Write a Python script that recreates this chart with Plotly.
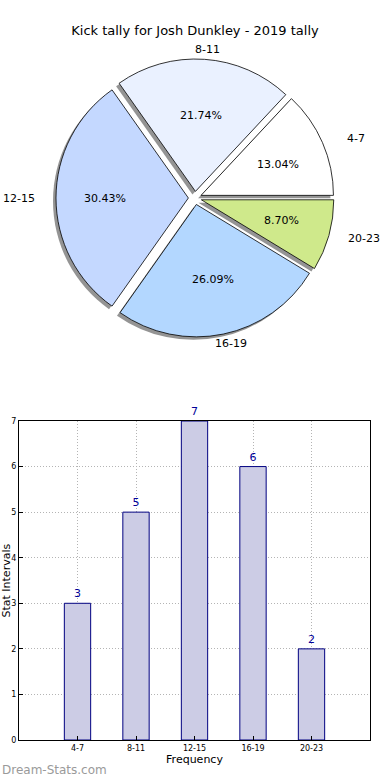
import math
import plotly.graph_objects as go

# ---- data ----
categories = ["4-7", "8-11", "12-15", "16-19", "20-23"]
counts = [3, 5, 7, 6, 2]
pie_colors = ["#ffffff", "#eaf1ff", "#c4d8ff", "#b3d7ff", "#cfe98b"]
title_text = "Kick tally for Josh Dunkley - 2019 tally"
y_ticks = [0, 1, 2, 3, 4, 5, 6, 7]

W, H = 390, 780
FONT = "DejaVu Sans"

# pie geometry (pixels)
cx, cy = 195, 198
pull = 0.05
dom_h = 278  # pie domain height in px

total = sum(counts)
# plotly's counterclockwise pies place the first slice clockwise of `rotation`;
# shift so the first slice starts at 3 o'clock and runs counterclockwise
rot = 90 - 360 * counts[0] / total

def px2paper(x, y):
    return x / W, 1 - y / H

fig = go.Figure()

# shadow pie (offset left/down)
sh = 3
sx0, sy0 = px2paper(cx - dom_h / 2 - sh, cy + dom_h / 2 + sh)
sx1, sy1 = px2paper(cx + dom_h / 2 - sh, cy - dom_h / 2 + sh)
fig.add_trace(go.Pie(
    labels=categories, values=counts, sort=False, direction="counterclockwise",
    rotation=rot, pull=pull,
    marker=dict(colors=["rgba(60,60,60,0.55)"] * len(counts), line=dict(width=0)),
    textinfo="none", hoverinfo="skip", showlegend=False,
    domain=dict(x=[sx0, sx1], y=[sy0, sy1]),
))

# main pie
x0, y0 = px2paper(cx - dom_h / 2, cy + dom_h / 2)
x1, y1 = px2paper(cx + dom_h / 2, cy - dom_h / 2)
fig.add_trace(go.Pie(
    labels=categories, values=counts, sort=False, direction="counterclockwise",
    rotation=rot, pull=pull,
    marker=dict(colors=pie_colors, line=dict(color="#000000", width=0.8)),
    textinfo="none",
    showlegend=False,
    domain=dict(x=[x0, x1], y=[y0, y1]),
))

# outside labels and inside percentages, positioned from cumulative values
annotations = []
cum = 0
for lab, v in zip(categories, counts):
    mid = (cum + v / 2) / total * 2 * math.pi
    cum += v
    c, s = math.cos(mid), math.sin(mid)
    lx, ly = px2paper(cx + 176 * c, cy - 149 * s)
    annotations.append(dict(
        x=lx, y=ly, xref="paper", yref="paper", text=lab, showarrow=False,
        xanchor="center", yanchor="middle",
        font=dict(family=FONT, size=11, color="#000000"),
    ))
    tx, ty = px2paper(cx + 90 * c, cy - 83 * s)
    annotations.append(dict(
        x=tx, y=ty, xref="paper", yref="paper", text=f"{v / total * 100:.2f}%",
        showarrow=False, xanchor="center", yanchor="middle",
        font=dict(family=FONT, size=11, color="#000000"),
    ))

# bar chart
fig.add_trace(go.Bar(
    x=categories, y=counts, width=0.45,
    marker=dict(color="#ccccE5", line=dict(color="#000080", width=1)),
    text=[str(c) for c in counts], textposition="outside", cliponaxis=False,
    textfont=dict(family=FONT, size=11, color="#000099"),
    showlegend=False, xaxis="x", yaxis="y",
))

bx0, bx1 = 19 / W, 370 / W
by0, by1 = 1 - 740 / H, 1 - 421 / H

grid = dict(showgrid=True, gridcolor="#b4b4b4", griddash="1px,2px", gridwidth=1)

fig.update_layout(
    width=W, height=H,
    margin=dict(l=0, r=0, t=0, b=0, autoexpand=False),
    paper_bgcolor="#ffffff", plot_bgcolor="#ffffff",
    font=dict(family=FONT, color="#000000"),
    title=dict(text=title_text, x=0.5, xanchor="center", y=1 - 30 / H, yanchor="middle",
               font=dict(family=FONT, size=13, color="#000000")),
    xaxis=dict(
        domain=[bx0, bx1], range=[-1, 5], type="category", automargin=False,
        showline=True, linecolor="#000000", linewidth=1, mirror=True,
        ticks="inside", ticklen=4, tickcolor="#000000",
        tickfont=dict(family=FONT, size=8, color="#000000"),
        title=dict(text="Frequency", font=dict(family=FONT, size=11), standoff=2),
        zeroline=False, fixedrange=True, **grid,
    ),
    yaxis=dict(
        domain=[by0, by1], range=[0, 7], tickvals=y_ticks, automargin=False,
        showline=True, linecolor="#000000", linewidth=1, mirror=True,
        ticks="inside", ticklen=4, tickcolor="#000000",
        tickfont=dict(family=FONT, size=8, color="#000000"),
        zeroline=False, fixedrange=True, **grid,
    ),
    annotations=annotations + [
        dict(x=6 / W, y=(by0 + by1) / 2, xref="paper", yref="paper",
             text="Stat Intervals", textangle=-90, showarrow=False,
             xanchor="center", yanchor="middle",
             font=dict(family=FONT, size=11, color="#000000")),
        dict(x=0, y=1 - 770 / H, xref="paper", yref="paper",
             text="Dream-Stats.com", showarrow=False,
             xanchor="left", yanchor="middle",
             font=dict(family=FONT, size=12, color="#9a9a9a")),
    ],
)

fig.write_html(
    "out.html",
    config={"displayModeBar": False},
    post_script="document.body.style.margin='0';document.body.style.overflow='hidden';",
)
